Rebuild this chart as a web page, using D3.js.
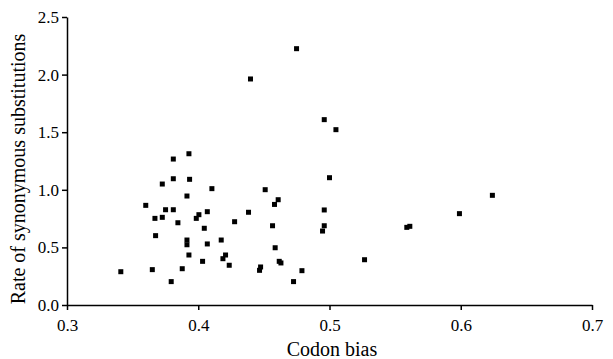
<!DOCTYPE html>
<html>
<head>
<meta charset="utf-8">
<script src="https://cdn.jsdelivr.net/npm/d3@7"></script>
<style>
  html, body { margin: 0; padding: 0; background: #fff; }
  svg { display: block; }
  svg text { font-family: "Liberation Serif", "Times New Roman", serif !important; fill: #000; }
</style>
</head>
<body>
<script>
// Codon bias (x) vs rate of synonymous substitutions (y)
const codonBias = [
  0.341, 0.360, 0.367, 0.3675, 0.365, 0.3726, 0.3726, 0.3751, 0.381, 0.381,
  0.381, 0.3845, 0.3794, 0.3878, 0.3914, 0.3929, 0.3934, 0.3914, 0.3914, 0.3929,
  0.3985, 0.4005, 0.4069, 0.4104, 0.4046, 0.4069, 0.4033, 0.4175, 0.4208, 0.4188,
  0.4236, 0.4277, 0.4383, 0.4510, 0.4609, 0.4581, 0.4566, 0.4586, 0.4617, 0.4630,
  0.4475, 0.4467, 0.4790, 0.4726, 0.5000, 0.4960, 0.4960, 0.4947, 0.5267, 0.5589,
  0.5612, 0.6241, 0.5990, 0.4749, 0.4398, 0.4960, 0.5049
];
const synRate = [
  0.289, 0.865, 0.752, 0.602, 0.307, 1.050, 0.761, 0.827, 1.267, 1.096,
  0.827, 0.714, 0.203, 0.315, 0.946, 1.313, 1.091, 0.564, 0.523, 0.434,
  0.752, 0.784, 0.810, 1.010, 0.666, 0.530, 0.379, 0.564, 0.434, 0.402,
  0.345, 0.723, 0.805, 1.001, 0.914, 0.873, 0.688, 0.497, 0.379, 0.365,
  0.330, 0.301, 0.298, 0.203, 1.105, 0.825, 0.688, 0.642, 0.393, 0.674,
  0.683, 0.952, 0.793, 2.225, 1.962, 1.609, 1.522
];
const xTicks = [0.3, 0.4, 0.5, 0.6, 0.7];
const yTicks = [0.0, 0.5, 1.0, 1.5, 2.0, 2.5];
const xLabel = "Codon bias";
const yLabel = "Rate of synonymous substitutions";

const W = 613, H = 359;
const m = { left: 67, right: 21, top: 17, bottom: 54 };

const svg = d3.select("body").append("svg").attr("width", W).attr("height", H);

const x = d3.scaleLinear().domain([0.3, 0.7]).range([m.left, W - m.right]);
const y = d3.scaleLinear().domain([0, 2.5]).range([H - m.bottom, m.top]);

const xAxis = svg.append("g")
  .attr("transform", `translate(0,${H - m.bottom})`)
  .call(d3.axisBottom(x).tickValues(xTicks).tickFormat(d3.format(".1f")).tickSize(5).tickSizeOuter(0).tickPadding(9));
const yAxis = svg.append("g")
  .attr("transform", `translate(${m.left},0)`)
  .call(d3.axisLeft(y).tickValues(yTicks).tickFormat(d3.format(".1f")).tickSize(5).tickSizeOuter(0).tickPadding(3));

[xAxis, yAxis].forEach(g => {
  g.attr("font-family", '"Liberation Serif", serif').attr("font-size", 17);
  g.select(".domain").attr("stroke", "#000").attr("stroke-width", 1.5);
  g.selectAll(".tick line").attr("stroke", "#000").attr("stroke-width", 1.5);
  g.selectAll(".tick text").attr("fill", "#000");
});

svg.append("g").selectAll("rect")
  .data(codonBias.map((d, i) => [d, synRate[i]]))
  .join("rect")
  .attr("x", d => x(d[0]) - 2.5)
  .attr("y", d => y(d[1]) - 2.5)
  .attr("width", 5)
  .attr("height", 5)
  .attr("fill", "#000");

svg.append("text")
  .attr("x", 332)
  .attr("y", 356)
  .attr("text-anchor", "middle")
  .attr("font-size", 20)
  .text(xLabel);

svg.append("text")
  .attr("transform", `translate(25,169) rotate(-90)`)
  .attr("text-anchor", "middle")
  .attr("font-size", 20)
  .text(yLabel);
</script>
</body>
</html>
